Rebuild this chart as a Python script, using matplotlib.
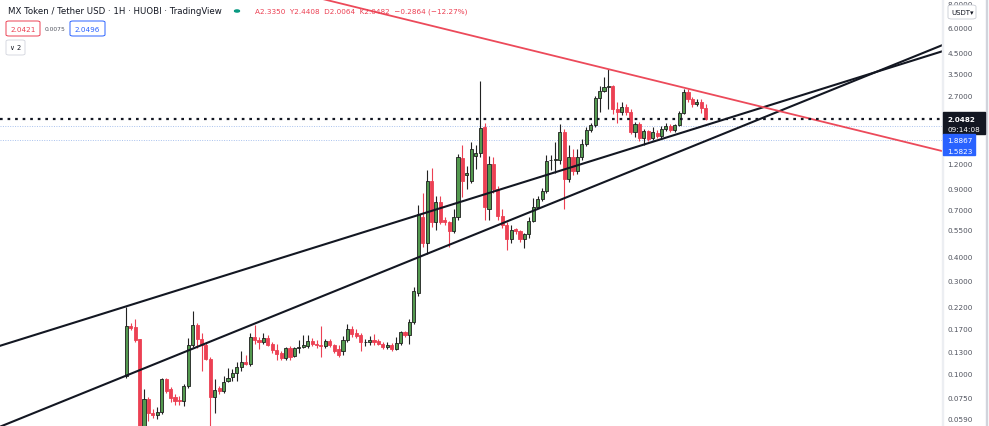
import matplotlib
matplotlib.use("Agg")
import matplotlib.pyplot as plt
import numpy as np
from matplotlib.patches import FancyBboxPatch
from matplotlib.ticker import NullLocator, FixedLocator, FixedFormatter

# MX/USDT 1H candles
opens = [0.0966, 0.176, 0.173, 0.151, 0.049, 0.074, 0.063, 0.061, 0.0635, 0.094,
         0.083, 0.076, 0.073, 0.072, 0.086, 0.14, 0.177, 0.15, 0.14, 0.119,
         0.076, 0.084, 0.081, 0.091, 0.096, 0.101, 0.108, 0.114, 0.112, 0.155,
         0.148, 0.145, 0.152, 0.142, 0.132, 0.127, 0.12, 0.135, 0.123, 0.136,
         0.137, 0.139, 0.147, 0.142, 0.14, 0.139, 0.147, 0.14, 0.133, 0.13,
         0.148, 0.169, 0.162, 0.157, 0.145, 0.146, 0.149, 0.147, 0.142, 0.137,
         0.141, 0.134, 0.143, 0.163, 0.157, 0.185, 0.26, 0.64, 0.47, 0.98,
         0.6, 0.76, 0.62, 0.6, 0.54, 0.64, 1.29, 1.05, 0.98, 1.32,
         1.36, 1.85, 0.7, 1.2, 0.89, 0.65, 0.58, 0.49, 0.555, 0.54,
         0.49, 0.52, 0.61, 0.72, 0.79, 0.87, 1.25, 1.26, 1.26, 1.75,
         1.0, 1.3, 1.1, 1.3, 1.51, 1.79, 1.9, 2.63, 2.85, 2.98,
         3.0, 2.3, 2.22, 2.36, 2.22, 1.75, 1.93, 1.62, 1.77, 1.63,
         1.72, 1.66, 1.82, 1.88, 1.79, 1.9, 2.2, 2.82, 2.6, 2.45,
         2.5, 2.335]
highs = [0.221, 0.183, 0.19, 0.151, 0.083, 0.076, 0.066, 0.067, 0.095, 0.095,
         0.085, 0.078, 0.077, 0.088, 0.152, 0.21, 0.183, 0.162, 0.146, 0.121,
         0.094, 0.086, 0.097, 0.107, 0.105, 0.115, 0.13, 0.124, 0.162, 0.178,
         0.155, 0.162, 0.158, 0.145, 0.142, 0.13, 0.137, 0.138, 0.137, 0.148,
         0.158, 0.157, 0.152, 0.148, 0.175, 0.151, 0.15, 0.142, 0.14, 0.156,
         0.18, 0.176, 0.17, 0.162, 0.15, 0.156, 0.16, 0.15, 0.145, 0.145,
         0.143, 0.155, 0.165, 0.166, 0.19, 0.28, 0.74, 0.85, 1.12, 1.14,
         0.82, 0.82, 0.64, 0.61, 0.7, 1.35, 1.5, 1.17, 1.55, 1.5,
         3.22, 1.95, 1.32, 1.3, 0.92, 0.7, 0.6, 0.58, 0.56, 0.55,
         0.53, 0.64, 0.8, 0.82, 0.9, 1.33, 1.33, 1.55, 1.92, 1.82,
         1.5, 1.43, 1.43, 1.61, 1.86, 1.95, 2.68, 3.01, 3.36, 3.7,
         3.05, 2.5, 2.5, 2.45, 2.3, 1.98, 1.96, 1.82, 1.8, 1.86,
         1.8, 1.88, 1.95, 1.92, 1.93, 2.25, 2.91, 2.9, 2.66, 2.6,
         2.6, 2.4408]
lows = [0.095, 0.167, 0.146, 0.045, 0.047, 0.057, 0.059, 0.058, 0.062, 0.079,
        0.071, 0.069, 0.069, 0.068, 0.084, 0.137, 0.135, 0.103, 0.117, 0.052,
        0.063, 0.078, 0.079, 0.09, 0.091, 0.091, 0.103, 0.11, 0.109, 0.142,
        0.134, 0.142, 0.138, 0.128, 0.118, 0.118, 0.118, 0.118, 0.121, 0.127,
        0.135, 0.136, 0.139, 0.136, 0.121, 0.136, 0.137, 0.127, 0.122, 0.124,
        0.146, 0.155, 0.152, 0.13, 0.139, 0.14, 0.141, 0.14, 0.133, 0.134,
        0.13, 0.132, 0.14, 0.154, 0.142, 0.18, 0.25, 0.45, 0.41, 0.57,
        0.55, 0.59, 0.58, 0.45, 0.53, 0.62, 0.81, 0.89, 0.96, 1.13,
        1.3, 0.62, 0.62, 0.85, 0.62, 0.56, 0.43, 0.47, 0.52, 0.475,
        0.44, 0.5, 0.6, 0.71, 0.77, 0.85, 1.12, 1.08, 1.2, 0.7,
        0.97, 1.05, 1.06, 1.25, 1.48, 1.75, 1.86, 2.21, 2.8, 2.3,
        2.17, 1.94, 2.15, 2.15, 1.7, 1.65, 1.57, 1.5, 1.58, 1.6,
        1.62, 1.63, 1.78, 1.75, 1.75, 1.87, 2.17, 2.5, 2.35, 2.38,
        2.2, 2.0064]
closes = [0.175, 0.172, 0.149, 0.048, 0.074, 0.063, 0.061, 0.0635, 0.094, 0.081,
          0.075, 0.072, 0.0725, 0.086, 0.14, 0.177, 0.15, 0.14, 0.119, 0.076,
          0.082, 0.081, 0.09, 0.095, 0.101, 0.108, 0.114, 0.112, 0.155, 0.148,
          0.145, 0.153, 0.14, 0.132, 0.126, 0.12, 0.135, 0.122, 0.135, 0.137,
          0.14, 0.147, 0.142, 0.141, 0.139, 0.147, 0.14, 0.131, 0.125, 0.148,
          0.169, 0.16, 0.156, 0.146, 0.146, 0.149, 0.146, 0.142, 0.137, 0.141,
          0.134, 0.143, 0.163, 0.158, 0.185, 0.265, 0.66, 0.47, 0.98, 0.6,
          0.76, 0.6, 0.6, 0.54, 0.64, 1.3, 0.98, 1.07, 1.43, 1.36,
          1.84, 0.72, 1.2, 0.89, 0.65, 0.58, 0.49, 0.55, 0.54, 0.49,
          0.52, 0.61, 0.72, 0.79, 0.87, 1.24, 1.26, 1.27, 1.75, 1.0,
          1.3, 1.1, 1.3, 1.51, 1.79, 1.9, 2.63, 2.85, 2.98, 3.0,
          2.3, 2.22, 2.36, 2.22, 1.75, 1.93, 1.62, 1.77, 1.61, 1.74,
          1.66, 1.82, 1.88, 1.8, 1.9, 2.2, 2.82, 2.6, 2.45, 2.5,
          2.335, 2.0482]

last_price = 2.0482
alert_prices = [1.8867, 1.5823]
price_ticks = [0.059, 0.075, 0.1, 0.13, 0.17, 0.22, 0.3, 0.4, 0.55, 0.7,
               0.9, 1.2, 2.7, 3.5, 4.5, 6.0, 8.0]

# trend lines drawn by hand on the chart: (bar index, price) end points
line_up1 = ([-28.6, 184.4], [0.1388, 4.547])
line_up2 = ([-28.6, 184.4], [0.0532, 4.888])
line_down = ([39.3, 184.4], [9.03, 1.397])

GREEN = "#53994f"
RED = "#ec4053"

W, H = 989, 427
fig = plt.figure(figsize=(W / 100, H / 100), dpi=100)
ax = fig.add_axes([0, 0, 942 / W, 1])
ax.set_yscale("log")
ax.set_xlim(-28.56, 184.42)
ax.set_ylim(0.0537, 8.46)
for s in ax.spines.values():
    s.set_visible(False)

x = np.arange(len(opens))
o = np.array(opens); c = np.array(closes)
hi = np.array(highs); lo = np.array(lows)
up = c >= o

# wicks
ax.vlines(x[up], lo[up], hi[up], color="#222222", lw=0.8, zorder=3)
ax.vlines(x[~up], lo[~up], hi[~up], color=RED, lw=0.8, zorder=3)
# bodies
bot = np.minimum(o, c); top = np.maximum(o, c)
ax.bar(x[up], top[up] - bot[up], bottom=bot[up], width=0.7, color=GREEN,
       edgecolor="#1e1e1e", lw=0.6, zorder=4)
ax.bar(x[~up], top[~up] - bot[~up], bottom=bot[~up], width=0.7, color=RED,
       edgecolor=RED, lw=0.6, zorder=4)

# trend lines
ax.plot(*line_up1, color="#131722", lw=1.5, zorder=5)
ax.plot(*line_up2, color="#131722", lw=1.5, zorder=5)
ax.plot(*line_down, color="#ec4a5a", lw=1.3, zorder=5)

# horizontal levels
ax.axhline(last_price, color="#131722", lw=1.6, ls=(0, (1.2, 2.2)), zorder=6)
for p in alert_prices:
    ax.axhline(p, color="#a9c2ee", lw=0.7, ls=(0, (1, 1.5)), zorder=2)

# price scale on the right
ax.yaxis.tick_right()
ax.yaxis.set_major_locator(FixedLocator(price_ticks))
ax.yaxis.set_major_formatter(FixedFormatter([f"{t:.4f}" for t in price_ticks]))
ax.yaxis.set_minor_locator(NullLocator())
ax.tick_params(axis="y", length=0, pad=4, labelsize=5.2, labelcolor="#50535e")
ax.set_xticks([])

fig.patches.append(plt.Rectangle((942 / W, 0), 1 / W, 1, transform=fig.transFigure,
                                 color="#eceef2", zorder=0))
fig.patches.append(plt.Rectangle((986 / W, 0), 1 / W, 1, transform=fig.transFigure,
                                 color="#d1d4dc", zorder=0))

# last price label
fig.patches.append(plt.Rectangle((943 / W, 1 - 135 / H), 42 / W, 22 / H,
                                 transform=fig.transFigure, color="#131722", zorder=5))
fig.text(947 / W, 1 - 120 / H, "2.0482", color="white", fontsize=5.2,
         va="center", fontweight="bold", zorder=6)
fig.text(947 / W, 1 - 130 / H, "09:14:08", color="white", fontsize=5.2,
         va="center", zorder=6)
fig.patches.append(plt.Rectangle((943 / W, 1 - 156 / H), 32 / W, 21 / H,
                                 transform=fig.transFigure, color="#2962ff", zorder=5))
fig.text(947 / W, 1 - 141 / H, "1.8867", color="white", fontsize=5.2, va="center", zorder=6)
fig.text(947 / W, 1 - 152 / H, "1.5823", color="white", fontsize=5.2, va="center", zorder=6)

# USDT currency box
fig.patches.append(FancyBboxPatch((948 / W, 1 - 20 / H), 28 / W, 14 / H,
                                  boxstyle="round,pad=0,rounding_size=0.004",
                                  transform=fig.transFigure, fc="white", ec="#c8cbd3",
                                  lw=0.6, zorder=5))
fig.text(951 / W, 1 - 13 / H, "USDT\u25be", color="#131722", fontsize=5, va="center", zorder=6)

# legend / header
fig.text(8 / W, 1 - 12 / H, "MX Token / Tether USD \u00b7 1H \u00b7 HUOBI \u00b7 TradingView",
         color="#131722", fontsize=6.2, va="center")
fig.patches.append(plt.Circle((237 / W, 1 - 12 / H), 0.0025, transform=fig.transFigure,
                              color="#089981"))
fig.text(255 / W, 1 - 12 / H,
         "A2.3350  Y2.4408  D2.0064  K2.0482  \u22120.2864 (\u221212.27%)",
         color=RED, fontsize=5.2, va="center")

boxes = [(6, 40, "2.0421", RED), (70, 105, "2.0496", "#2962ff")]
for x0, x1, txt, col in boxes:
    fig.patches.append(FancyBboxPatch((x0 / W, 1 - 37 / H), (x1 - x0) / W, 15 / H,
                                      boxstyle="round,pad=0,rounding_size=0.003",
                                      transform=fig.transFigure, fc="white", ec=col, lw=0.7))
    fig.text((x0 + x1) / 2 / W, 1 - 29.5 / H, txt, color=col, fontsize=5.2,
             ha="center", va="center")
fig.text(45 / W, 1 - 29.5 / H, "0.0075", color="#50535e", fontsize=4.3, va="center")
fig.patches.append(FancyBboxPatch((6 / W, 1 - 56 / H), 19 / W, 15 / H,
                                  boxstyle="round,pad=0,rounding_size=0.003",
                                  transform=fig.transFigure, fc="white", ec="#d1d4dc", lw=0.6))
fig.text(15.5 / W, 1 - 48.5 / H, "\u2228 2", color="#131722", fontsize=4.8,
         ha="center", va="center")

fig.savefig("out.png", dpi=100)
